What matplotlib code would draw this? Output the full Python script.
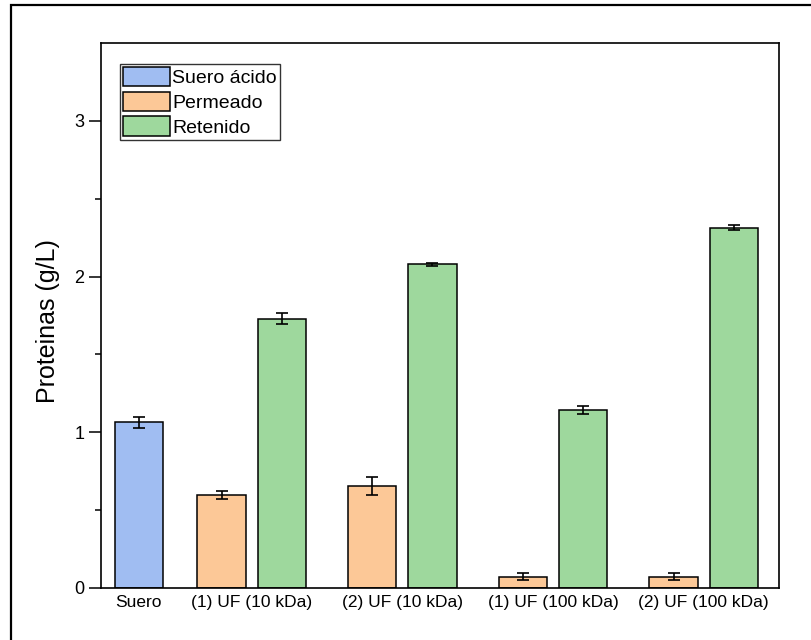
import matplotlib.pyplot as plt
from matplotlib.patches import Rectangle

plt.rcParams['font.family'] = ['Liberation Sans', 'DejaVu Sans']

# Protein content (g/L) per stream
groups = ["Suero", "(1) UF (10 kDa)", "(2) UF (10 kDa)", "(1) UF (100 kDa)", "(2) UF (100 kDa)"]
suero = [1.065]
suero_err = [0.035]
permeado = [0.596, 0.655, 0.072, 0.072]
permeado_err = [0.025, 0.055, 0.021, 0.024]
retenido = [1.730, 2.078, 1.141, 2.313]
retenido_err = [0.034, 0.008, 0.026, 0.016]

c_suero = "#A0BDF2"
c_perm = "#FCC897"
c_ret = "#9ED89D"

fig = plt.figure(figsize=(8.12, 6.4), dpi=100)
ax = fig.add_axes([0.1244, 0.0813, 0.8350, 0.8515])

# outer frame around the whole figure
fig.patches.append(Rectangle((0.0135, -0.05), 1.1, 1.042, transform=fig.transFigure,
                             fill=False, edgecolor="black", linewidth=1.6))

width = 0.32
xs = 0.25
xg = [1, 2, 3, 4]
err_kw = dict(ecolor="black", elinewidth=1.2, capsize=4, capthick=1.2)

ax.bar(xs, suero, width, yerr=suero_err, color=c_suero, edgecolor="black",
       linewidth=1.1, error_kw=err_kw, label="Suero ácido")
ax.bar([x - 0.2 for x in xg], permeado, width, yerr=permeado_err, color=c_perm,
       edgecolor="black", linewidth=1.1, error_kw=err_kw, label="Permeado")
ax.bar([x + 0.2 for x in xg], retenido, width, yerr=retenido_err, color=c_ret,
       edgecolor="black", linewidth=1.1, error_kw=err_kw, label="Retenido")

ax.set_xlim(0, 4.5)
ax.set_ylim(0, 3.5)
ax.set_xticks([xs] + xg)
ax.set_xticklabels(groups, fontsize=12.5)
ax.set_yticks([0, 1, 2, 3])
ax.set_yticks([0.5, 1.5, 2.5], minor=True)
ax.tick_params(axis="y", which="major", direction="out", length=8.5, width=1.1, labelsize=13)
ax.tick_params(axis="y", which="minor", direction="out", length=4.5, width=1.1)
ax.tick_params(axis="x", length=0, pad=5)
for s in ax.spines.values():
    s.set_linewidth(1.2)

ax.set_ylabel("Proteinas (g/L)", fontsize=18)
ax.yaxis.set_label_coords(-0.061, 0.49)

leg = ax.legend(loc="upper left", bbox_to_anchor=(0.028, 0.962), borderaxespad=0,
                fontsize=14, handlelength=2.4, handleheight=1.15, labelspacing=0.24,
                handletextpad=0.15, borderpad=0.15, fancybox=False, framealpha=1)
leg.get_frame().set_edgecolor("#333333")
leg.get_frame().set_linewidth(1.0)

plt.savefig("out.png", dpi=100)
